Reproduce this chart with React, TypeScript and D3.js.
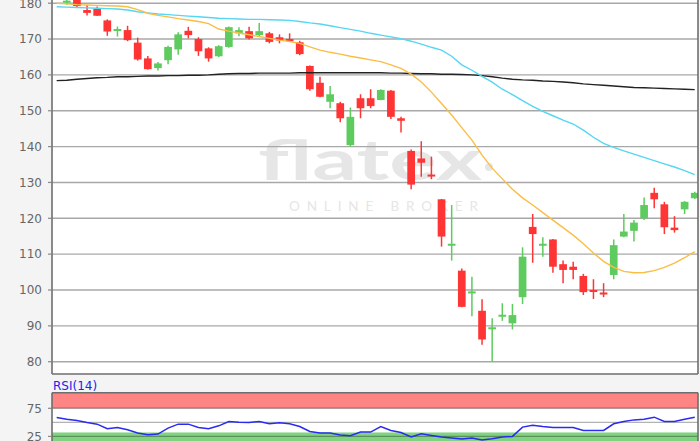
import React from 'react';
import * as d3 from 'd3';

// daily OHLC (first candle sits above the visible area)
const open = [182.2, 180.3, 181.5, 178.1, 178.5, 175.2, 172.5, 172.5, 169.0, 164.6, 161.9, 164.1, 167.1, 172.3, 170.0, 167.4,
  165.2, 167.8, 171.6, 172.2, 171.1, 171.6, 170.5, 170.0, 169.1, 162.5, 157.8, 152.5, 152.1, 140.4, 153.5, 153.5,
  153.0, 155.6, 147.9, 138.8, 136.7, 132.2, 125.3, 112.6, 105.4, 99.3, 94.2, 89.3, 92.8, 90.7, 98.0, 117.6,
  112.6, 114.1, 107.2, 106.5, 103.9, 100.0, 99.3, 104.2, 114.9, 116.5, 120.0, 127.1, 123.9, 117.4, 122.5, 125.6];
const high = [183.0, 181.5, 182.0, 179.5, 179.1, 175.5, 173.5, 173.7, 170.4, 165.3, 163.6, 168.1, 171.9, 173.4, 170.5, 167.7,
  168.3, 173.5, 173.3, 173.4, 174.5, 172.0, 171.3, 171.6, 169.5, 162.6, 159.5, 156.9, 152.5, 150.9, 154.6, 156.0,
  156.0, 155.8, 148.3, 139.2, 141.5, 137.2, 125.4, 123.7, 106.0, 103.7, 97.4, 92.1, 96.3, 96.1, 111.9, 121.2,
  114.7, 114.2, 108.2, 107.9, 104.5, 103.0, 101.9, 114.1, 121.2, 119.5, 125.8, 128.5, 124.6, 120.6, 124.8, 127.4];
const low = [181.6, 179.6, 178.8, 176.6, 176.4, 170.9, 170.7, 169.4, 164.0, 161.5, 161.2, 163.0, 165.6, 170.2, 165.3, 163.7,
  165.0, 167.6, 170.8, 169.9, 170.8, 168.8, 168.8, 169.2, 165.5, 155.6, 153.8, 150.7, 146.8, 140.0, 147.9, 150.7,
  152.9, 147.7, 143.9, 128.1, 131.6, 130.9, 112.1, 108.2, 95.2, 92.7, 84.7, 80.0, 91.4, 89.0, 96.1, 107.6,
  109.3, 104.8, 101.9, 103.0, 98.6, 97.5, 98.0, 103.0, 114.7, 113.5, 119.5, 122.8, 115.6, 116.0, 121.2, 125.4];
const close = [182.6, 180.7, 179.2, 177.3, 176.5, 172.1, 172.8, 169.7, 164.3, 161.6, 163.2, 167.8, 171.3, 171.1, 166.6, 164.6,
  168.0, 173.3, 172.5, 170.2, 172.2, 169.2, 169.6, 169.8, 165.8, 156.0, 153.9, 154.6, 147.9, 148.3, 150.7, 151.3,
  155.8, 148.3, 147.2, 129.4, 135.5, 132.0, 114.9, 112.9, 95.3, 99.6, 86.2, 89.6, 93.1, 93.0, 109.3, 115.6,
  112.9, 106.5, 105.6, 105.6, 99.4, 99.8, 99.1, 112.5, 116.3, 118.8, 123.7, 125.3, 117.5, 116.7, 124.6, 127.1];

// moving averages
const smaShort = [180.0, 179.8, 179.6, 179.5, 179.4, 179.3, 179.2, 179.0, 178.2, 177.2, 176.6, 176.2, 175.7, 175.3, 174.9, 174.3,
  172.8, 172.2, 171.7, 171.2, 170.7, 170.2, 169.7, 169.3, 168.8, 167.8, 166.9, 166.3, 165.8, 165.2, 164.7, 164.2,
  163.7, 162.8, 161.8, 160.2, 158.0, 155.2, 152.0, 148.8, 145.3, 141.8, 137.6, 134.0, 131.0, 128.1, 125.7, 123.7,
  121.6, 119.5, 117.4, 115.3, 112.9, 110.3, 108.0, 106.3, 105.2, 104.8, 104.9, 105.4, 106.3, 107.5, 109.0, 110.7];
const smaMid = [179.0, 178.9, 178.8, 178.7, 178.6, 178.5, 178.4, 178.1, 177.6, 177.3, 177.0, 176.8, 176.6, 176.4, 176.2, 176.0,
  175.8, 175.7, 175.6, 175.5, 175.5, 175.4, 175.3, 175.2, 174.9, 174.5, 174.2, 173.7, 173.2, 172.7, 172.2, 171.6,
  171.1, 170.6, 170.1, 169.4, 168.6, 167.7, 166.9, 165.2, 162.8, 161.3, 159.6, 158.0, 156.0, 154.5, 152.8, 151.2,
  149.8, 148.6, 147.4, 146.3, 144.6, 142.6, 140.9, 139.8, 138.8, 137.9, 137.0, 136.1, 135.2, 134.3, 133.3, 132.2];
const smaLong = [158.4, 158.5, 158.8, 159.0, 159.2, 159.3, 159.5, 159.5, 159.6, 159.7, 159.7, 159.8, 159.8, 159.9, 159.9, 160.0,
  160.2, 160.3, 160.4, 160.4, 160.5, 160.5, 160.5, 160.5, 160.6, 160.6, 160.6, 160.6, 160.6, 160.6, 160.6, 160.6,
  160.6, 160.5, 160.5, 160.4, 160.3, 160.3, 160.2, 160.2, 160.1, 160.0, 159.8, 159.5, 159.1, 158.8, 158.6, 158.5,
  158.3, 158.2, 158.0, 157.8, 157.5, 157.3, 157.1, 156.9, 156.7, 156.5, 156.4, 156.3, 156.2, 156.1, 156.0, 155.9];

const rsi = [58.5, 55.6, 53.2, 49.7, 46.8, 38.6, 40.8, 36.8, 31.0, 28.0, 29.2, 39.8, 46.8, 46.8, 40.8, 38.6,
  43.8, 51.4, 50.3, 49.7, 51.4, 47.4, 49.1, 47.4, 42.6, 33.8, 31.0, 31.0, 27.5, 26.2, 32.7, 32.7,
  42.6, 35.6, 32.0, 24.0, 29.8, 26.8, 24.0, 22.2, 20.4, 22.2, 18.7, 21.0, 24.0, 25.0, 41.5, 45.0,
  42.6, 40.8, 40.8, 40.8, 35.6, 35.6, 35.6, 47.4, 51.4, 54.4, 55.6, 59.2, 51.4, 51.4, 55.6, 59.2];

const priceTicks = [80, 90, 100, 110, 120, 130, 140, 150, 160, 170, 180];
const rsiTicks = [25, 75];
const rsiGrid = [25, 50, 75];

const UP = '#5ecb5e';
const DOWN = '#ff3434';

export default function App() {
  const days = close.map((_, i) => i);
  const left = 52, right = 698, mainBottom = 374, rsiTop = 392.7;

  const x = d3.scaleBand<number>().domain(days).range([51.6, 699.8]).paddingInner(0.24).paddingOuter(0.12);
  const y = d3.scaleLinear().domain([80, 180]).range([361.7, 3.2]);
  const r = d3.scaleLinear().domain([25, 75]).range([436.4, 408.3]);
  const cx = (i: number) => (x(i) as number) + x.bandwidth() / 2;

  const priceLine = d3.line<number>().x((_, i) => cx(i)).y(v => y(v));
  const rsiLine = d3.line<number>().x((_, i) => cx(i)).y(v => r(v));

  const font = "'DejaVu Sans', Verdana, sans-serif";

  return (
    <svg width={700} height={441} style={{ position: 'fixed', left: 0, top: 0 }} fontFamily={font}>
      <defs>
        <clipPath id="mainClip"><rect x={left} y={0} width={right - left} height={mainBottom} /></clipPath>
        <clipPath id="rsiClip"><rect x={left} y={rsiTop} width={right - left} height={441 - rsiTop} /></clipPath>
      </defs>
      <rect width={700} height={441} fill="#f4f4f4" />
      <rect x={left} y={0} width={right - left} height={mainBottom} fill="#fff" />
      <rect x={left} y={rsiTop} width={right - left} height={441 - rsiTop} fill="#fff" />

      {/* watermark */}
      <g fill="#e6e6e6">
        <text x={258} y={180} fontFamily="Lato, 'Open Sans', sans-serif" fontWeight={700} fontSize={56}
          textLength={224} lengthAdjust="spacingAndGlyphs">flatex</text>
        <circle cx={489} cy={167} r={4} />
        <text x={289} y={211} fontFamily="Lato, 'Open Sans', sans-serif" fontSize={13.5}
          textLength={189} lengthAdjust="spacing">ONLINE BROKER</text>
      </g>

      {/* price grid */}
      <g clipPath="url(#mainClip)">
        {priceTicks.map(t => (
          <line key={t} x1={left} x2={right} y1={y(t)} y2={y(t)} stroke="#a8a8a8" strokeWidth={1.4} />
        ))}

        {days.map(i => {
          const up = close[i] >= open[i];
          const c = up ? UP : DOWN;
          const top = y(Math.max(open[i], close[i]));
          const h = Math.max(2, Math.abs(y(open[i]) - y(close[i])));
          return (
            <g key={i}>
              <line x1={cx(i)} x2={cx(i)} y1={y(high[i])} y2={y(low[i])} stroke={c} strokeWidth={1.5} />
              <rect x={x(i)} y={top} width={x.bandwidth()} height={h} fill={c} />
            </g>
          );
        })}

        <path d={priceLine(smaLong) || ''} fill="none" stroke="#222" strokeWidth={1.4} />
        <path d={priceLine(smaMid) || ''} fill="none" stroke="#55d6f2" strokeWidth={1.4} />
        <path d={priceLine(smaShort) || ''} fill="none" stroke="#fbbd45" strokeWidth={1.4} />
      </g>

      {/* rsi panel */}
      <g clipPath="url(#rsiClip)">
        <rect x={left} y={rsiTop} width={right - left} height={r(75) - rsiTop} fill="#ff8585" />
        <rect x={left} y={r(32)} width={right - left} height={441 - r(32)} fill="#80d380" />
        {rsiGrid.map(t => (
          <line key={t} x1={left} x2={right} y1={r(t)} y2={r(t)} stroke="#000" strokeOpacity={0.3} strokeWidth={1.4} />
        ))}
        <path d={rsiLine(rsi) || ''} fill="none" stroke="#2a2af0" strokeWidth={1.5} />
      </g>

      {/* frames */}
      <g stroke="#6e6e6e" strokeWidth={1.6} fill="none">
        <line x1={left} x2={left} y1={0} y2={mainBottom} />
        <line x1={left} x2={right} y1={mainBottom} y2={mainBottom} />
        <line x1={right} x2={right} y1={0} y2={mainBottom} />
        <line x1={left} x2={right} y1={rsiTop} y2={rsiTop} />
        <line x1={left} x2={left} y1={rsiTop} y2={441} />
        <line x1={right} x2={right} y1={rsiTop} y2={441} />
      </g>

      {/* axis labels */}
      <g fill="#666" fontSize={12} textAnchor="end">
        {priceTicks.map(t => (
          <g key={t}>
            <line x1={48} x2={left} y1={y(t)} y2={y(t)} stroke="#888" strokeWidth={1.2} />
            <text x={42} y={y(t)} dy="0.36em">{t}</text>
          </g>
        ))}
        {rsiTicks.map(t => (
          <g key={t}>
            <line x1={48} x2={left} y1={r(t)} y2={r(t)} stroke="#888" strokeWidth={1.2} />
            <text x={42} y={r(t)} dy="0.36em">{t}</text>
          </g>
        ))}
      </g>
      <text x={53} y={390} fontSize={12} fill="#2323ee">RSI(14)</text>
    </svg>
  );
}
